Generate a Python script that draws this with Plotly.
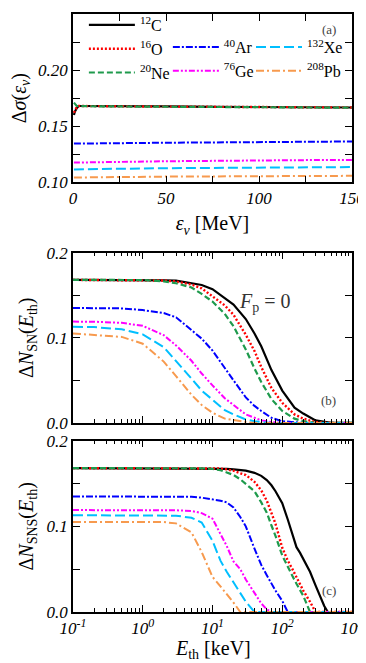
import plotly.graph_objects as go

# ---- panel (a): relative difference vs neutrino energy ----
eps_nu = [0.5, 1, 2, 3, 5, 10, 25, 50, 75, 100, 125, 150]
a_c12 = [0.160, 0.163, 0.166, 0.168, 0.168, 0.168, 0.1678, 0.1676, 0.1673, 0.1671, 0.1669, 0.1667]
a_o16 = [0.162, 0.164, 0.167, 0.168, 0.168, 0.168, 0.1678, 0.1675, 0.1673, 0.1671, 0.1669, 0.1667]
a_ne20 = [0.171, 0.170, 0.168, 0.168, 0.1679, 0.1678, 0.1676, 0.1674, 0.1671, 0.1669, 0.1667, 0.1665]
a_ar40 = [0.1345, 0.1345, 0.1345, 0.1345, 0.1345, 0.1346, 0.1349, 0.1353, 0.1357, 0.1360, 0.1362, 0.1364]
a_ge76 = [0.1176, 0.1176, 0.1176, 0.1176, 0.1177, 0.1178, 0.1182, 0.1188, 0.1193, 0.1196, 0.1198, 0.1200]
a_xe132 = [0.1115, 0.1115, 0.1115, 0.1115, 0.1116, 0.1117, 0.1121, 0.1126, 0.1130, 0.1133, 0.1135, 0.1136]
a_pb208 = [0.1043, 0.1043, 0.1043, 0.1043, 0.1043, 0.1044, 0.1047, 0.1051, 0.1054, 0.1056, 0.1057, 0.1058]

# ---- panel (b): supernova neutrinos, vs threshold energy (keV) ----
e_sn = [0.1, 0.2, 0.5, 1, 2, 3, 5, 7, 10, 15, 20, 30, 40, 50, 70, 100, 150, 200, 300, 500, 1000]
b_c12 = [0.168, 0.168, 0.168, 0.168, 0.1675, 0.167, 0.1645, 0.162, 0.157, 0.146, 0.139, 0.122,
         0.105, 0.090, 0.062, 0.038, 0.018, 0.011, 0.003, 0.0, 0.0]
b_o16 = [0.168, 0.168, 0.168, 0.168, 0.1672, 0.166, 0.1625, 0.158, 0.149, 0.138, 0.127, 0.1035,
         0.0844, 0.0657, 0.041, 0.0236, 0.010, 0.005, 0.001, 0.0, 0.0]
b_ne20 = [0.168, 0.168, 0.168, 0.1678, 0.1663, 0.164, 0.159, 0.1515, 0.1425, 0.128, 0.1135, 0.0863,
          0.064, 0.048, 0.028, 0.014, 0.005, 0.002, 0.0, 0.0, 0.0]
b_ar40 = [0.135, 0.135, 0.1345, 0.1325, 0.129, 0.124, 0.109, 0.099, 0.085, 0.064, 0.050, 0.030,
          0.020, 0.014, 0.006, 0.002, 0.0005, 0.0, 0.0, 0.0, 0.0]
b_ge76 = [0.119, 0.1188, 0.1175, 0.114, 0.103, 0.091, 0.073, 0.058, 0.044, 0.029, 0.021, 0.010,
          0.006, 0.003, 0.001, 0.0, 0.0, 0.0, 0.0, 0.0, 0.0]
b_xe132 = [0.113, 0.1125, 0.110, 0.104, 0.089, 0.073, 0.052, 0.038, 0.027, 0.015, 0.010, 0.004,
           0.002, 0.001, 0.0, 0.0, 0.0, 0.0, 0.0, 0.0, 0.0]
b_pb208 = [0.105, 0.1035, 0.101, 0.093, 0.072, 0.055, 0.033, 0.021, 0.012, 0.005, 0.003, 0.001,
           0.0, 0.0, 0.0, 0.0, 0.0, 0.0, 0.0, 0.0, 0.0]

# ---- panel (c): SNS neutrinos, vs threshold energy (keV) ----
e_sns = [0.1, 0.3, 1, 2, 3, 5, 7, 10, 13, 16, 20, 25, 30, 40, 50, 60, 70, 80, 100, 120, 140,
         160, 180, 200, 250, 300, 350, 400, 450, 500, 1000]
c_c12 = [0.168, 0.168, 0.168, 0.168, 0.168, 0.168, 0.168, 0.168, 0.1678, 0.1672, 0.1665, 0.1658,
         0.165, 0.1625, 0.159, 0.154, 0.148, 0.141, 0.127, 0.108, 0.091, 0.0757, 0.069, 0.062,
         0.047, 0.031, 0.018, 0.007, 0.0, 0.0, 0.0]
c_o16 = [0.168, 0.168, 0.168, 0.168, 0.168, 0.168, 0.168, 0.168, 0.1675, 0.1665, 0.165, 0.162,
         0.160, 0.152, 0.142, 0.130, 0.116, 0.103, 0.075, 0.060, 0.050, 0.041, 0.032, 0.025,
         0.012, 0.0, 0.0, 0.0, 0.0, 0.0, 0.0]
c_ne20 = [0.168, 0.168, 0.168, 0.168, 0.168, 0.168, 0.1678, 0.167, 0.1655, 0.163, 0.160, 0.155,
          0.150, 0.141, 0.128, 0.116, 0.101, 0.089, 0.066, 0.052, 0.042, 0.033, 0.025, 0.019,
          0.0, 0.0, 0.0, 0.0, 0.0, 0.0, 0.0]
c_ar40 = [0.135, 0.135, 0.135, 0.135, 0.135, 0.1345, 0.1335, 0.1318, 0.130, 0.128, 0.122, 0.111,
          0.100, 0.074, 0.055, 0.043, 0.033, 0.025, 0.013, 0.0, 0.0, 0.0, 0.0, 0.0,
          0.0, 0.0, 0.0, 0.0, 0.0, 0.0, 0.0]
c_ge76 = [0.119, 0.119, 0.119, 0.119, 0.1188, 0.118, 0.1155, 0.109, 0.091, 0.077, 0.059, 0.050,
          0.038, 0.022, 0.010, 0.003, 0.0, 0.0, 0.0, 0.0, 0.0, 0.0, 0.0, 0.0,
          0.0, 0.0, 0.0, 0.0, 0.0, 0.0, 0.0]
c_xe132 = [0.113, 0.113, 0.113, 0.113, 0.1125, 0.110, 0.1045, 0.083, 0.060, 0.047, 0.034, 0.022,
           0.012, 0.0, 0.0, 0.0, 0.0, 0.0, 0.0, 0.0, 0.0, 0.0, 0.0, 0.0,
           0.0, 0.0, 0.0, 0.0, 0.0, 0.0, 0.0]
c_pb208 = [0.105, 0.105, 0.105, 0.105, 0.1035, 0.093, 0.070, 0.041, 0.030, 0.021, 0.011, 0.0,
           0.0, 0.0, 0.0, 0.0, 0.0, 0.0, 0.0, 0.0, 0.0, 0.0, 0.0, 0.0,
           0.0, 0.0, 0.0, 0.0, 0.0, 0.0, 0.0]

names = ["<sup>12</sup>C", "<sup>16</sup>O", "<sup>20</sup>Ne", "<sup>40</sup>Ar",
         "<sup>76</sup>Ge", "<sup>132</sup>Xe", "<sup>208</sup>Pb"]
log_tickvals = [0.1, 1, 10, 100, 1000]
log_ticktext = ["10<sup>-1</sup>", "10<sup>0</sup>", "10<sup>1</sup>", "10<sup>2</sup>", "10<sup>3</sup>"]

styles = [
    dict(color="black", width=2.2, dash="solid"),
    dict(color="#FF0000", width=2.4, dash="2px,2px"),
    dict(color="#1E9A4C", width=2.2, dash="6px,3px"),
    dict(color="#0000FF", width=2.0, dash="7px,2px,2px,2px"),
    dict(color="#FF00FF", width=2.0, dash="6px,2px,2px,2px,2px,2px"),
    dict(color="#00BFFF", width=2.0, dash="10px,4px"),
    dict(color="#F79A4E", width=2.0, dash="8px,3px,2px,3px"),
]
# legend columns: C/O/Ne, then Ar/Ge, then Xe/Pb
legend_of = ["legend", "legend", "legend", "legend2", "legend2", "legend3", "legend3"]

FONT = "Liberation Serif"

fig = go.Figure()

panel_a = [a_c12, a_o16, a_ne20, a_ar40, a_ge76, a_xe132, a_pb208]
panel_b = [b_c12, b_o16, b_ne20, b_ar40, b_ge76, b_xe132, b_pb208]
panel_c = [c_c12, c_o16, c_ne20, c_ar40, c_ge76, c_xe132, c_pb208]

for i in range(7):
    fig.add_trace(go.Scatter(x=eps_nu, y=panel_a[i], mode="lines", name=names[i],
                             line=styles[i], legend=legend_of[i],
                             xaxis="x", yaxis="y"))
for i in range(7):
    fig.add_trace(go.Scatter(x=e_sn, y=panel_b[i], mode="lines", line=styles[i],
                             showlegend=False, xaxis="x2", yaxis="y2"))
for i in range(7):
    fig.add_trace(go.Scatter(x=e_sns, y=panel_c[i], mode="lines", line=styles[i],
                             showlegend=False, xaxis="x3", yaxis="y3"))

tickfont = dict(family=FONT, size=17, color="black", style="italic")
titlefont = dict(family=FONT, size=20, color="black")
axis_common = dict(showline=True, linecolor="black", linewidth=1.5, mirror="allticks",
                   ticks="inside", ticklen=7, tickcolor="black", showgrid=False,
                   zeroline=False, tickfont=tickfont, automargin=False)
legend_common = dict(orientation="v", xanchor="left", yanchor="top", itemwidth=46,
                     font=dict(family=FONT, size=16, color="black"),
                     bgcolor="rgba(0,0,0,0)", tracegroupgap=0)

fig.update_layout(
    width=358, height=655,
    margin=dict(l=65, r=14, t=0, b=51),
    paper_bgcolor="white", plot_bgcolor="white",
    font=dict(family=FONT, color="black"),
    showlegend=True,
    legend=dict(legend_common, x=0.039, y=1.01),
    legend2=dict(legend_common, x=0.34, y=0.973),
    legend3=dict(legend_common, x=0.638, y=0.973),
    xaxis=dict(axis_common, domain=[0, 1], anchor="y", range=[0, 150], dtick=50,
               minor=dict(dtick=25, ticks="inside", ticklen=7, tickcolor="black"),
               title=dict(text="<i>ε</i><sub><i>ν</i></sub> [MeV]", font=titlefont, standoff=9)),
    yaxis=dict(axis_common, domain=[0.7185, 1.0], anchor="x", range=[0.10, 0.25], dtick=0.05,
               tickformat=".2f",
               minor=dict(dtick=0.025, ticks="inside", ticklen=7, tickcolor="black"),
               title=dict(text="Δ<i>σ</i>(<i>ε</i><sub><i>ν</i></sub>)", font=titlefont, standoff=8)),
    xaxis2=dict(axis_common, domain=[0, 1], anchor="y2", type="log", range=[-1, 3],
                tickvals=log_tickvals, ticktext=log_ticktext, showticklabels=False,
                minor=dict(dtick="D1", ticks="inside", ticklen=4, tickcolor="black")),
    yaxis2=dict(axis_common, domain=[0.3162, 0.601], anchor="x2", range=[0, 0.2], dtick=0.1,
                tickformat=".1f",
                minor=dict(dtick=0.05, ticks="inside", ticklen=7, tickcolor="black"),
                title=dict(text="Δ<i>N</i><sub>SN</sub>(<i>E</i><sub>th</sub>)", font=titlefont,
                           standoff=8)),
    xaxis3=dict(axis_common, domain=[0, 1], anchor="y3", type="log", range=[-1, 3],
                tickvals=log_tickvals, ticktext=log_ticktext,
                minor=dict(dtick="D1", ticks="inside", ticklen=4, tickcolor="black")),
    yaxis3=dict(axis_common, domain=[0, 0.2864], anchor="x3", range=[0, 0.2], dtick=0.1,
                tickformat=".1f",
                minor=dict(dtick=0.05, ticks="inside", ticklen=7, tickcolor="black"),
                title=dict(text="Δ<i>N</i><sub>SNS</sub>(<i>E</i><sub>th</sub>)", font=titlefont,
                           standoff=8)),
)

# x title of the bottom panel sits tight against its tick labels
fig.add_annotation(text="<i>E</i><sub>th</sub> [keV]", xref="x3 domain", yref="paper",
                   x=0.5, y=-0.063, yanchor="middle", showarrow=False, font=titlefont)
fig.add_annotation(text="(a)", xref="x domain", yref="y domain", x=0.95, y=0.965,
                   showarrow=False, font=dict(family=FONT, size=13, color="#444"))
fig.add_annotation(text="(b)", xref="x2 domain", yref="y2 domain", x=0.95, y=0.075,
                   showarrow=False, font=dict(family=FONT, size=13, color="#444"))
fig.add_annotation(text="(c)", xref="x3 domain", yref="y3 domain", x=0.95, y=0.07,
                   showarrow=False, font=dict(family=FONT, size=13, color="#444"))
fig.add_annotation(text="<i>F</i><sub>p</sub> = 0", xref="x2 domain", yref="y2 domain",
                   x=0.79, y=0.79, showarrow=False, font=dict(family=FONT, size=20, color="#333"))

fig.write_html("out.html")
